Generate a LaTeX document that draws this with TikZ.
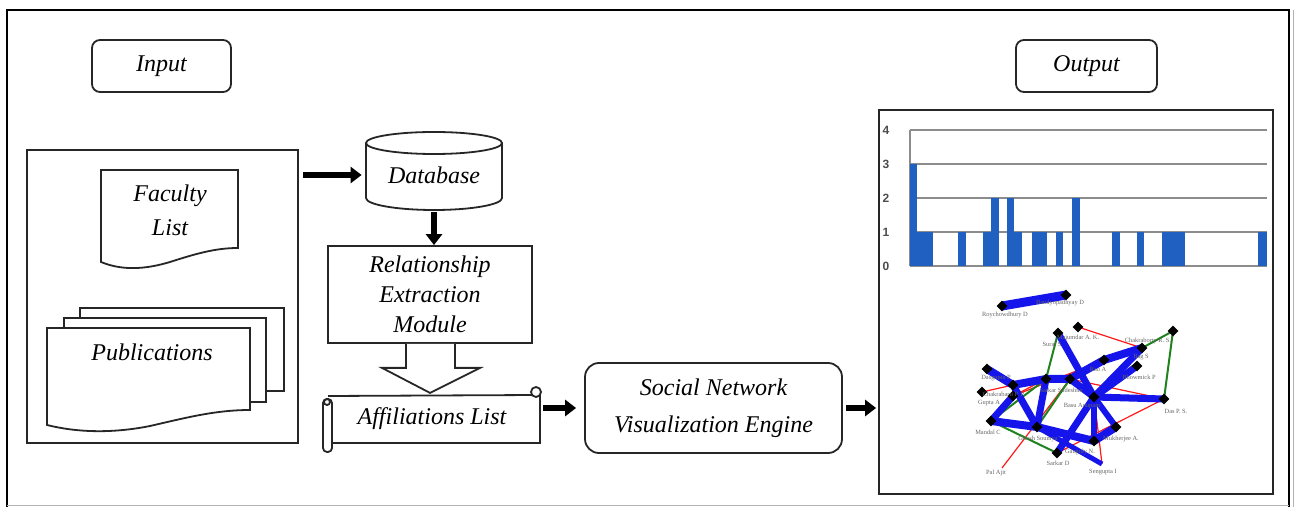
\documentclass[tikz,border=0pt]{standalone}
\usepackage{fontspec}
\setmainfont{Liberation Serif}
\newfontfamily\chartfont{Liberation Sans}
\usetikzlibrary{positioning,arrows.meta,calc,shapes.geometric}
\definecolor{barblue}{RGB}{32,96,192}
\definecolor{netblue}{RGB}{20,20,235}
\definecolor{netgreen}{RGB}{30,130,30}

\begin{document}
\begin{tikzpicture}[
    x=0.5pt, y=-0.5pt,
    box/.style={draw=black!85, line width=0.9pt, align=center, font=\fontsize{12}{15}\selectfont\itshape},
    roundbox/.style={box, rounded corners=4pt},
    shapeline/.style={draw=black!85, line width=0.9pt},
    label/.style={align=center, inner sep=0pt, font=\fontsize{12}{17}\selectfont\itshape},
    bigarrow/.style={line width=2.6pt, -{Triangle[length=5.5pt, width=8pt]}},
    gv/.style={diamond, fill=black, inner sep=0pt, minimum size=5.5pt},
    gl/.style={font=\fontsize{3.2}{3.5}\selectfont, text=black!60, inner sep=0pt},
    bl/.style={draw=netblue, line width=3.5pt},
    rd/.style={draw=red!90, line width=0.6pt},
    gr/.style={draw=netgreen, line width=1pt},
]
\useasboundingbox (0,0) rectangle (1295,507);

% frame
\draw[line width=1.4pt] (7,507) -- (7,10) -- (1289,10) -- (1289,507);
\draw[black!30, line width=0.4pt] (7,505) -- (1289,505);
\draw[black!30, line width=0.4pt] (1293,10) -- (1293,507);

% input side
\node[roundbox, minimum width=69.5pt, minimum height=26pt] (input) at (161.5,66) {Input};
\node[box, minimum width=135.5pt, minimum height=146.5pt] (src) at (162.5,296.5) {};

\draw[shapeline, fill=white] (101,262) -- (101,170) -- (238,170) -- (238,248)
    .. controls (215,248) and (195,254) .. (170,262)
    .. controls (150,268) and (125,272) .. (101,262) -- cycle;
\node[label] (faculty) at (170,210) {Faculty\\List};

\draw[shapeline, fill=white] (80,318) -- (80,308) -- (284,308) -- (284,391) -- (266,391);
\draw[shapeline, fill=white] (64,328) -- (64,318) -- (266,318) -- (266,402) -- (250,402);
\draw[shapeline, fill=white] (47,425) -- (47,328) -- (250,328) -- (250,410)
    .. controls (215,410) and (185,418) .. (150,426)
    .. controls (110,434) and (75,432) .. (47,425) -- cycle;
\node[label] (pubs) at (152,352) {Publications};

% database
\draw[shapeline, fill=white] (366,143) -- (366,198) arc[start angle=180, end angle=360, x radius=34pt, y radius=6pt] -- (502,143);
\draw[shapeline] (434,143) ellipse[x radius=34pt, y radius=5.5pt];
\node[label, minimum width=68pt, minimum height=35pt] (db) at (434,175) {Database};

\node[box, minimum width=102pt, minimum height=48.5pt] (rem) at (430,294.5) {Relationship\\Extraction\\Module};

\draw[bigarrow, shorten <=2pt, shorten >=2pt] (src.east |- db.west) -- (db.west);
\draw[bigarrow, shorten <=1pt] (db.south) -- (db.south |- rem.north);

\draw[shapeline, fill=white] ($(rem.south)+(-24,0)$) -- ++(0,24) -- ++(-24,0) -- ($(rem.south)+(0,49)$)
    -- ($(rem.south)+(50,24)$) -- ++(-25,0) -- ($(rem.south)+(25,0)$);

% affiliations scroll
\draw[shapeline, fill=white] (328,396) -- (536,395) -- (540,395) -- (540,443) -- (330,443);
\draw[shapeline, fill=white] (536,392) circle[radius=2.5pt];
\draw[shapeline, fill=white, rounded corners=2pt] (323,399) rectangle (332,452);
\draw[shapeline] (327,402) circle[radius=1.5pt];
\node[label, minimum width=108pt, minimum height=24pt] (aff) at (432,419) {Affiliations List};

\node[box, rounded corners=7pt, minimum width=128.5pt, minimum height=45pt, font=\fontsize{12}{18.5}\selectfont\itshape] (sne) at (713.5,408) {Social Network\\Visualization Engine};

% output side
\node[roundbox, minimum width=70.5pt, minimum height=26pt] (output) at (1086.5,66) {Output};
\node[draw=black!85, line width=0.9pt, minimum width=197pt, minimum height=192pt] (outp) at (1076,302) {};

\draw[bigarrow, shorten <=1.5pt, shorten >=4pt] (aff.east |- sne.west) -- (sne.west);
\draw[bigarrow, shorten <=1.5pt, shorten >=1pt] (sne.east) -- (sne.east -| outp.west);

% bar chart
\foreach \v in {0,...,4} {
    \draw[black!45, line width=0.6pt] (910,{266-34*\v}) -- (1267,{266-34*\v});
    \node[font=\chartfont\bfseries\fontsize{6}{6}\selectfont, text=black!70] at (886,{266-34*\v}) {\v};
}
\draw[black!45, line width=0.6pt] (910,130) -- (910,266);
\foreach \xa/\xb/\v in {910/917/3, 917/933/1, 958/966/1, 983/991/1, 991/999/2, 1007/1014/2, 1014/1022/1,
    1032/1047/1, 1056/1063/1, 1072/1080/2, 1112/1120/1, 1137/1144/1, 1162/1185/1, 1258/1267/1}
    \fill[barblue] (\xa,266) rectangle (\xb,{266-34*\v});

% network
\coordinate (royd) at (1002,306);
\coordinate (band) at (1066,295);
\coordinate (a) at (1078,327);
\coordinate (maj) at (1058,333);
\coordinate (chak) at (1173,331);
\coordinate (bag) at (1142,348);
\coordinate (rao) at (1104,360);
\coordinate (bhow) at (1137,366);
\coordinate (dasg) at (987,369);
\coordinate (p1) at (1013,385);
\coordinate (p2) at (1046,379);
\coordinate (p3) at (1070,379);
\coordinate (chakp) at (982,392);
\coordinate (gupt) at (1013,396);
\coordinate (basu) at (1094,397);
\coordinate (das) at (1164,399);
\coordinate (mand) at (991,421);
\coordinate (ghos) at (1037,427);
\coordinate (muk) at (1116,427);
\coordinate (gang) at (1094,441);
\coordinate (sark) at (1057,453);
\coordinate (pal) at (1002,468);
\coordinate (seng) at (1102,464);

\draw[rd] (a) -- (bag);
\draw[rd] (gupt) -- (rao);
\draw[rd] (gupt) -- (p2);
\draw[rd] (chakp) -- (p1);
\draw[rd] (pal) -- (p3);
\draw[rd] (sark) -- (das);
\draw[rd] (basu) -- (seng);
\draw[rd] (p3) -- (das);
\draw[gr] (p2) -- (maj);
\draw[gr] (chak) -- (das);
\draw[gr] (chak) -- (bag);
\draw[gr] (mand) -- (p2);
\draw[gr] (ghos) -- (p3);
\draw[gr] (mand) .. controls (1030,440) .. (sark);
\draw[bl, line width=4.5pt] (royd) -- (band);
\draw[bl, line width=4pt] (dasg) -- (p1) -- (p2) -- (p3) -- (rao) -- (bag);
\draw[bl] (maj) -- (basu);
\draw[bl] (p2) -- (ghos);
\draw[bl] (p1) -- (ghos);
\draw[bl] (gupt) -- (mand);
\draw[bl, line width=4pt] (mand) -- (ghos) -- (gang) -- (muk);
\draw[bl] (p3) -- (basu) -- (das);
\draw[bl] (basu) -- (bag);
\draw[bl] (bhow) -- (basu);
\draw[bl, line width=3pt] (muk) -- (basu);
\draw[bl] (sark) -- (basu);
\draw[bl, line width=3pt] (gang) -- (basu);
\draw[bl, line width=2.5pt] (ghos) -- (seng);

\foreach \n in {royd,band,a,maj,chak,bag,rao,bhow,dasg,p1,p2,p3,chakp,gupt,basu,das,mand,ghos,muk,gang,sark}
    \node[gv] at (\n) {};

\node[gl] at (1005,315) {Roychowdhury D};
\node[gl] at (1060,303) {Bandyopadhyay D};
\node[gl] at (1078,338) {Majumdar A. K.};
\node[gl] at (1052,344) {Sural S};
\node[gl] at (1148,341) {Chakraborty R. S.};
\node[gl] at (1141,357) {Bag S};
\node[gl] at (1098,369) {Rao A};
\node[gl] at (1139,377) {Bhowmick P};
\node[gl] at (996,378) {Dasgupta P};
\node[gl] at (1004,394) {Chakrabarti P. P.};
\node[gl] at (989,403) {Gupta A};
\node[gl] at (1061,390) {Sarkar Sudeshna};
\node[gl] at (1082,406) {Basu Anupam};
\node[gl] at (1176,411) {Das P. S.};
\node[gl] at (988,432) {Mandal C};
\node[gl] at (1038,439) {Ghosh Soumya};
\node[gl] at (1121,439) {Mukherjee A.};
\node[gl] at (1080,452) {Ganguly N.};
\node[gl] at (1058,463) {Sarkar D};
\node[gl] at (996,473) {Pal Ajit};
\node[gl] at (1103,472) {Sengupta I};
\end{tikzpicture}
\end{document}
